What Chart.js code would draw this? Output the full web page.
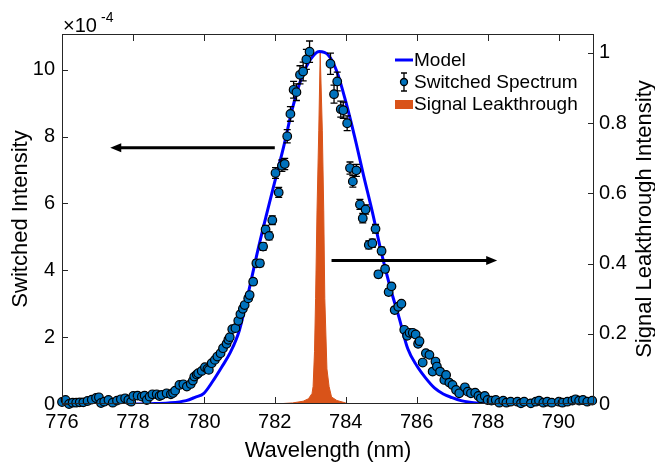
<!DOCTYPE html>
<html>
<head>
<meta charset="utf-8">
<script src="https://cdn.jsdelivr.net/npm/chart.js@4.4.1/dist/chart.umd.min.js"></script>
<style>
  html, body { margin: 0; padding: 0; background: #fff; }
  #wrap { width: 655px; height: 464px; }
</style>
</head>
<body>
<div id="wrap"><canvas id="myChart" width="655" height="464"></canvas></div>
<script>
const xTicks = [776, 778, 780, 782, 784, 786, 788, 790];
const yTicks = [0, 2, 4, 6, 8, 10];
const y2Ticks = [0, 0.2, 0.4, 0.6, 0.8, 1];

// model curve (left axis, x1e-4)
const modelWl = [776, 777, 778, 778.5, 779, 779.5, 779.75, 780, 780.25, 780.5, 780.75, 781, 781.25, 781.5, 781.75,
  782, 782.25, 782.5, 782.75, 783, 783.25, 783.5, 783.75, 784, 784.25, 784.5, 784.75, 785, 785.25, 785.5, 785.75,
  786, 786.25, 786.5, 786.75, 787, 787.25, 787.5, 787.75, 788, 789, 790, 791];
const modelVal = [0, 0, 0, 0.01, 0.03, 0.1, 0.2, 0.32, 0.68, 1.1, 1.55, 2.2, 3.3, 4.5, 5.6,
  6.65, 7.7, 8.85, 9.75, 10.3, 10.55, 10.45, 9.95, 9.05, 8.0, 6.85, 5.75, 4.55, 3.5, 2.6, 1.65,
  1.15, 0.78, 0.48, 0.3, 0.19, 0.1, 0.05, 0.02, 0, 0, 0, 0];

// signal leakthrough (right axis)
const leakWl = [782.0, 782.5, 782.8, 782.95, 783.05, 783.08, 783.12, 783.15, 783.19, 783.24, 783.28,
  783.34, 783.38, 783.41, 783.47, 783.53, 783.6, 783.75, 784.0, 784.1];
const leakVal = [0, 0.003, 0.008, 0.015, 0.03, 0.05, 0.15, 0.3, 0.55, 0.78, 1.0,
  0.78, 0.55, 0.3, 0.1, 0.05, 0.02, 0.01, 0.003, 0];

// switched spectrum: [wavelength, value (x1e-4), error]
const switched = [
  [776.00, 0.06, 0.04], [776.10, 0.12, 0.04], [776.20, 0.00, 0.04], [776.30, 0.04, 0.04], [776.40, 0.04, 0.04],
  [776.50, 0.05, 0.04], [776.60, 0.05, 0.04], [776.72, 0.09, 0.04], [776.84, 0.13, 0.04], [776.96, 0.18, 0.04],
  [777.04, 0.20, 0.04], [777.10, 0.03, 0.04], [777.19, 0.07, 0.04], [777.31, 0.12, 0.04], [777.43, 0.04, 0.04],
  [777.55, 0.10, 0.04], [777.66, 0.14, 0.04], [777.78, 0.17, 0.04], [777.87, 0.12, 0.04], [777.95, 0.07, 0.04],
  [778.01, 0.24, 0.04], [778.13, 0.25, 0.04], [778.25, 0.22, 0.04], [778.33, 0.25, 0.04], [778.39, 0.12, 0.04],
  [778.47, 0.22, 0.04], [778.55, 0.29, 0.04], [778.67, 0.29, 0.04], [778.75, 0.24, 0.04], [778.81, 0.27, 0.04],
  [778.95, 0.32, 0.04], [779.07, 0.29, 0.04], [779.13, 0.33, 0.04], [779.19, 0.40, 0.04], [779.31, 0.57, 0.04],
  [779.42, 0.59, 0.04], [779.52, 0.52, 0.04], [779.63, 0.60, 0.04], [779.69, 0.70, 0.04], [779.73, 0.82, 0.04],
  [779.80, 0.88, 0.04], [779.84, 0.92, 0.04], [779.94, 0.99, 0.05], [780.03, 1.10, 0.05], [780.10, 1.05, 0.05],
  [780.14, 1.02, 0.05], [780.22, 1.22, 0.05], [780.31, 1.32, 0.05], [780.38, 1.42, 0.05], [780.47, 1.52, 0.05],
  [780.54, 1.67, 0.05], [780.64, 1.80, 0.05], [780.69, 1.92, 0.05], [780.73, 2.00, 0.06], [780.80, 2.24, 0.06],
  [780.89, 2.27, 0.06], [780.97, 2.49, 0.06], [781.03, 2.69, 0.07], [781.10, 2.85, 0.07], [781.15, 2.96, 0.07],
  [781.25, 3.16, 0.08], [781.29, 3.26, 0.08], [781.39, 3.66, 0.09], [781.48, 4.21, 0.1], [781.58, 4.21, 0.1],
  [781.67, 4.71, 0.11], [781.74, 5.22, 0.12], [781.84, 5.03, 0.12], [781.93, 5.50, 0.13], [782.02, 6.91, 0.16],
  [782.11, 6.33, 0.15], [782.20, 7.13, 0.17], [782.28, 7.18, 0.17], [782.35, 8.01, 0.2], [782.44, 8.68, 0.22],
  [782.53, 9.40, 0.25], [782.61, 9.33, 0.25], [782.71, 9.85, 0.27], [782.80, 9.95, 0.28], [782.89, 10.31, 0.3],
  [782.98, 10.54, 0.32],
  [783.57, 10.18, 0.32], [783.67, 9.27, 0.27], [783.76, 9.65, 0.28], [783.86, 8.82, 0.24], [783.93, 8.79, 0.24],
  [784.04, 8.40, 0.22], [784.12, 7.06, 0.18], [784.20, 6.66, 0.17], [784.30, 6.99, 0.18], [784.40, 5.97, 0.15],
  [784.48, 5.56, 0.14], [784.56, 5.82, 0.14], [784.65, 4.76, 0.12], [784.75, 4.81, 0.12], [784.84, 5.24, 0.13],
  [784.92, 3.88, 0.1], [785.01, 4.58, 0.11], [785.11, 4.04, 0.1], [785.21, 3.35, 0.09], [785.29, 3.52, 0.09],
  [785.38, 2.81, 0.08], [785.48, 2.91, 0.08], [785.57, 3.00, 0.08], [785.65, 2.22, 0.07], [785.73, 2.04, 0.07],
  [785.80, 2.13, 0.07], [785.89, 2.13, 0.07], [785.97, 2.08, 0.07], [786.04, 1.80, 0.06], [786.08, 1.88, 0.06],
  [786.17, 1.24, 0.05], [786.26, 1.52, 0.05], [786.36, 1.47, 0.05], [786.45, 0.97, 0.05], [786.53, 1.27, 0.05],
  [786.57, 1.12, 0.05], [786.66, 0.97, 0.05], [786.78, 0.72, 0.04], [786.83, 0.87, 0.04], [786.92, 0.64, 0.04],
  [787.01, 0.57, 0.04], [787.11, 0.42, 0.04], [787.20, 0.32, 0.04], [787.36, 0.50, 0.04], [787.44, 0.37, 0.04],
  [787.53, 0.32, 0.04], [787.65, 0.34, 0.04], [787.74, 0.24, 0.04], [787.81, 0.17, 0.04], [787.92, 0.24, 0.04],
  [788.00, 0.12, 0.04], [788.11, 0.10, 0.04], [788.23, 0.12, 0.04], [788.33, 0.04, 0.04], [788.44, 0.10, 0.04],
  [788.53, 0.04, 0.04], [788.65, 0.07, 0.04], [788.84, 0.07, 0.04], [788.94, 0.02, 0.04], [789.03, 0.07, 0.04],
  [789.22, 0.02, 0.04], [789.36, 0.07, 0.04], [789.45, 0.10, 0.04], [789.57, 0.04, 0.04], [789.68, 0.07, 0.04],
  [789.81, 0.04, 0.04], [790.01, 0.07, 0.04], [790.11, 0.04, 0.04], [790.25, 0.07, 0.04], [790.39, 0.10, 0.04],
  [790.48, 0.14, 0.04], [790.58, 0.10, 0.04], [790.69, 0.12, 0.04], [790.81, 0.07, 0.04], [790.95, 0.10, 0.04]
];

// annotation arrows, in data units
const arrows = [
  { axis: 'y', from: [782.0, 7.67], to: [777.36, 7.67] },
  { axis: 'y2', from: [783.6, 0.409], to: [788.27, 0.409] }
];

const FONT = '"Liberation Sans", Arial, Helvetica, sans-serif';
const BLUE = '#0000FF';
const DOT = '#0072BD';
const ORANGE = '#D95319';
const AXIS = '#262626';

const decor = {
  id: 'decor',
  beforeDatasetDraw(chart, args) {
    if (args.index !== 0) return;
    const { ctx, scales: { x, y } } = chart;
    ctx.save();
    ctx.strokeStyle = '#000';
    ctx.lineWidth = 1.3;
    switched.forEach(([w, v, e]) => {
      const px = x.getPixelForValue(w);
      const t = y.getPixelForValue(v + e);
      const b = y.getPixelForValue(v - e);
      ctx.beginPath();
      ctx.moveTo(px, t); ctx.lineTo(px, b);
      ctx.moveTo(px - 3.5, t); ctx.lineTo(px + 3.5, t);
      ctx.moveTo(px - 3.5, b); ctx.lineTo(px + 3.5, b);
      ctx.stroke();
    });
    ctx.restore();
  },
  afterDraw(chart) {
    const { ctx, chartArea: a, scales } = chart;
    const { x, y, y2 } = scales;
    ctx.save();

    // box + inward ticks
    ctx.strokeStyle = AXIS;
    ctx.lineWidth = 1;
    ctx.strokeRect(a.left + 0.5, a.top + 0.5, a.right - a.left - 1, a.bottom - a.top - 1);
    ctx.beginPath();
    xTicks.forEach(v => {
      const px = Math.round(x.getPixelForValue(v)) + 0.5;
      ctx.moveTo(px, a.bottom); ctx.lineTo(px, a.bottom - 7);
      ctx.moveTo(px, a.top); ctx.lineTo(px, a.top + 7);
    });
    yTicks.forEach(v => {
      const py = Math.round(y.getPixelForValue(v)) + 0.5;
      ctx.moveTo(a.left, py); ctx.lineTo(a.left + 6, py);
    });
    y2Ticks.forEach(v => {
      const py = Math.round(y2.getPixelForValue(v)) + 0.5;
      ctx.moveTo(a.right, py); ctx.lineTo(a.right - 6, py);
    });
    ctx.stroke();

    // arrows
    ctx.strokeStyle = '#000';
    ctx.fillStyle = '#000';
    ctx.lineWidth = 3;
    arrows.forEach(ar => {
      const ys = scales[ar.axis];
      const x0 = x.getPixelForValue(ar.from[0]), y0 = ys.getPixelForValue(ar.from[1]);
      const x1 = x.getPixelForValue(ar.to[0]), y1 = ys.getPixelForValue(ar.to[1]);
      const dir = Math.sign(x1 - x0);
      ctx.beginPath();
      ctx.moveTo(x0, y0); ctx.lineTo(x1 - dir * 8, y1);
      ctx.stroke();
      ctx.beginPath();
      ctx.moveTo(x1, y1);
      ctx.lineTo(x1 - dir * 11, y1 - 4.5);
      ctx.lineTo(x1 - dir * 11, y1 + 4.5);
      ctx.closePath();
      ctx.fill();
    });

    // exponent label
    ctx.fillStyle = '#000';
    ctx.textBaseline = 'alphabetic';
    ctx.textAlign = 'left';
    ctx.font = '20px ' + FONT;
    ctx.fillText('\u00d710', a.left + 1, 32);
    ctx.font = '14px ' + FONT;
    ctx.fillText('-4', a.left + 39, 22);

    // axis titles
    ctx.font = '22px ' + FONT;
    ctx.textAlign = 'center';
    ctx.fillText('Wavelength (nm)', (a.left + a.right) / 2, 457);
    ctx.save();
    ctx.translate(27, (a.top + a.bottom) / 2);
    ctx.rotate(-Math.PI / 2);
    ctx.fillText('Switched Intensity', 0, 0);
    ctx.restore();
    ctx.save();
    ctx.translate(651, (a.top + a.bottom) / 2);
    ctx.rotate(-Math.PI / 2);
    ctx.fillText('Signal Leakthrough Intensity', 0, 0);
    ctx.restore();

    // legend
    const lx = 395, tx = 414;
    ctx.font = '19px ' + FONT;
    ctx.textAlign = 'left';
    ctx.textBaseline = 'middle';
    ctx.strokeStyle = BLUE;
    ctx.lineWidth = 3;
    ctx.beginPath(); ctx.moveTo(lx, 60); ctx.lineTo(lx + 18, 60); ctx.stroke();
    ctx.fillText('Model', tx, 61);
    ctx.strokeStyle = '#000';
    ctx.lineWidth = 1.3;
    ctx.beginPath();
    ctx.moveTo(lx + 9, 73); ctx.lineTo(lx + 9, 91);
    ctx.moveTo(lx + 6, 73); ctx.lineTo(lx + 12, 73);
    ctx.moveTo(lx + 6, 91); ctx.lineTo(lx + 12, 91);
    ctx.stroke();
    ctx.beginPath(); ctx.arc(lx + 9, 82, 3.5, 0, Math.PI * 2);
    ctx.fillStyle = DOT; ctx.fill(); ctx.stroke();
    ctx.fillStyle = '#000';
    ctx.fillText('Switched Spectrum', tx, 83);
    ctx.fillStyle = ORANGE;
    ctx.fillRect(lx, 100, 18, 9);
    ctx.fillStyle = '#000';
    ctx.fillText('Signal Leakthrough', tx, 105);

    ctx.restore();
  }
};

const tickFont = { family: FONT, size: 20 };

new Chart(document.getElementById('myChart'), {
  type: 'scatter',
  data: {
    datasets: [
      {
        label: 'Switched Spectrum',
        data: switched.map(p => ({ x: p[0], y: p[1] })),
        yAxisID: 'y',
        pointRadius: 4.3,
        pointBackgroundColor: DOT,
        pointBorderColor: '#000',
        pointBorderWidth: 1.2,
        showLine: false,
        clip: false
      },
      {
        label: 'Model',
        data: modelWl.map((w, i) => ({ x: w, y: modelVal[i] })),
        yAxisID: 'y',
        showLine: true,
        borderColor: BLUE,
        borderWidth: 3,
        pointRadius: 0,
        cubicInterpolationMode: 'monotone'
      },
      {
        label: 'Signal Leakthrough',
        data: leakWl.map((w, i) => ({ x: w, y: leakVal[i] })),
        yAxisID: 'y2',
        showLine: true,
        borderColor: ORANGE,
        borderWidth: 1,
        backgroundColor: ORANGE,
        fill: 'origin',
        pointRadius: 0,
        tension: 0
      }
    ]
  },
  options: {
    responsive: false,
    animation: false,
    events: [],
    layout: { padding: { top: 34, left: 0, right: 0, bottom: 0 } },
    plugins: {
      legend: { display: false },
      tooltip: { enabled: false }
    },
    scales: {
      x: {
        type: 'linear',
        min: 776,
        max: 791,
        afterBuildTicks: s => { s.ticks = xTicks.map(v => ({ value: v })); },
        afterFit: s => { s.height = 60; },
        grid: { display: false, drawTicks: false },
        border: { display: false },
        ticks: { color: '#000', font: tickFont, padding: 6, maxRotation: 0, autoSkip: false, callback: v => String(v) }
      },
      y: {
        position: 'left',
        min: 0,
        max: 11.07,
        afterBuildTicks: s => { s.ticks = yTicks.map(v => ({ value: v })); },
        afterFit: s => { s.width = 62; },
        grid: { display: false, drawTicks: false },
        border: { display: false },
        ticks: { color: '#000', font: tickFont, padding: 7, autoSkip: false, callback: v => String(v) }
      },
      y2: {
        position: 'right',
        min: 0,
        max: 1.054,
        afterBuildTicks: s => { s.ticks = y2Ticks.map(v => ({ value: v })); },
        afterFit: s => { s.width = 61; },
        grid: { display: false, drawTicks: false },
        border: { display: false },
        ticks: { color: '#000', font: tickFont, padding: 5, autoSkip: false, callback: v => String(v) }
      }
    }
  },
  plugins: [decor]
});
</script>
</body>
</html>
